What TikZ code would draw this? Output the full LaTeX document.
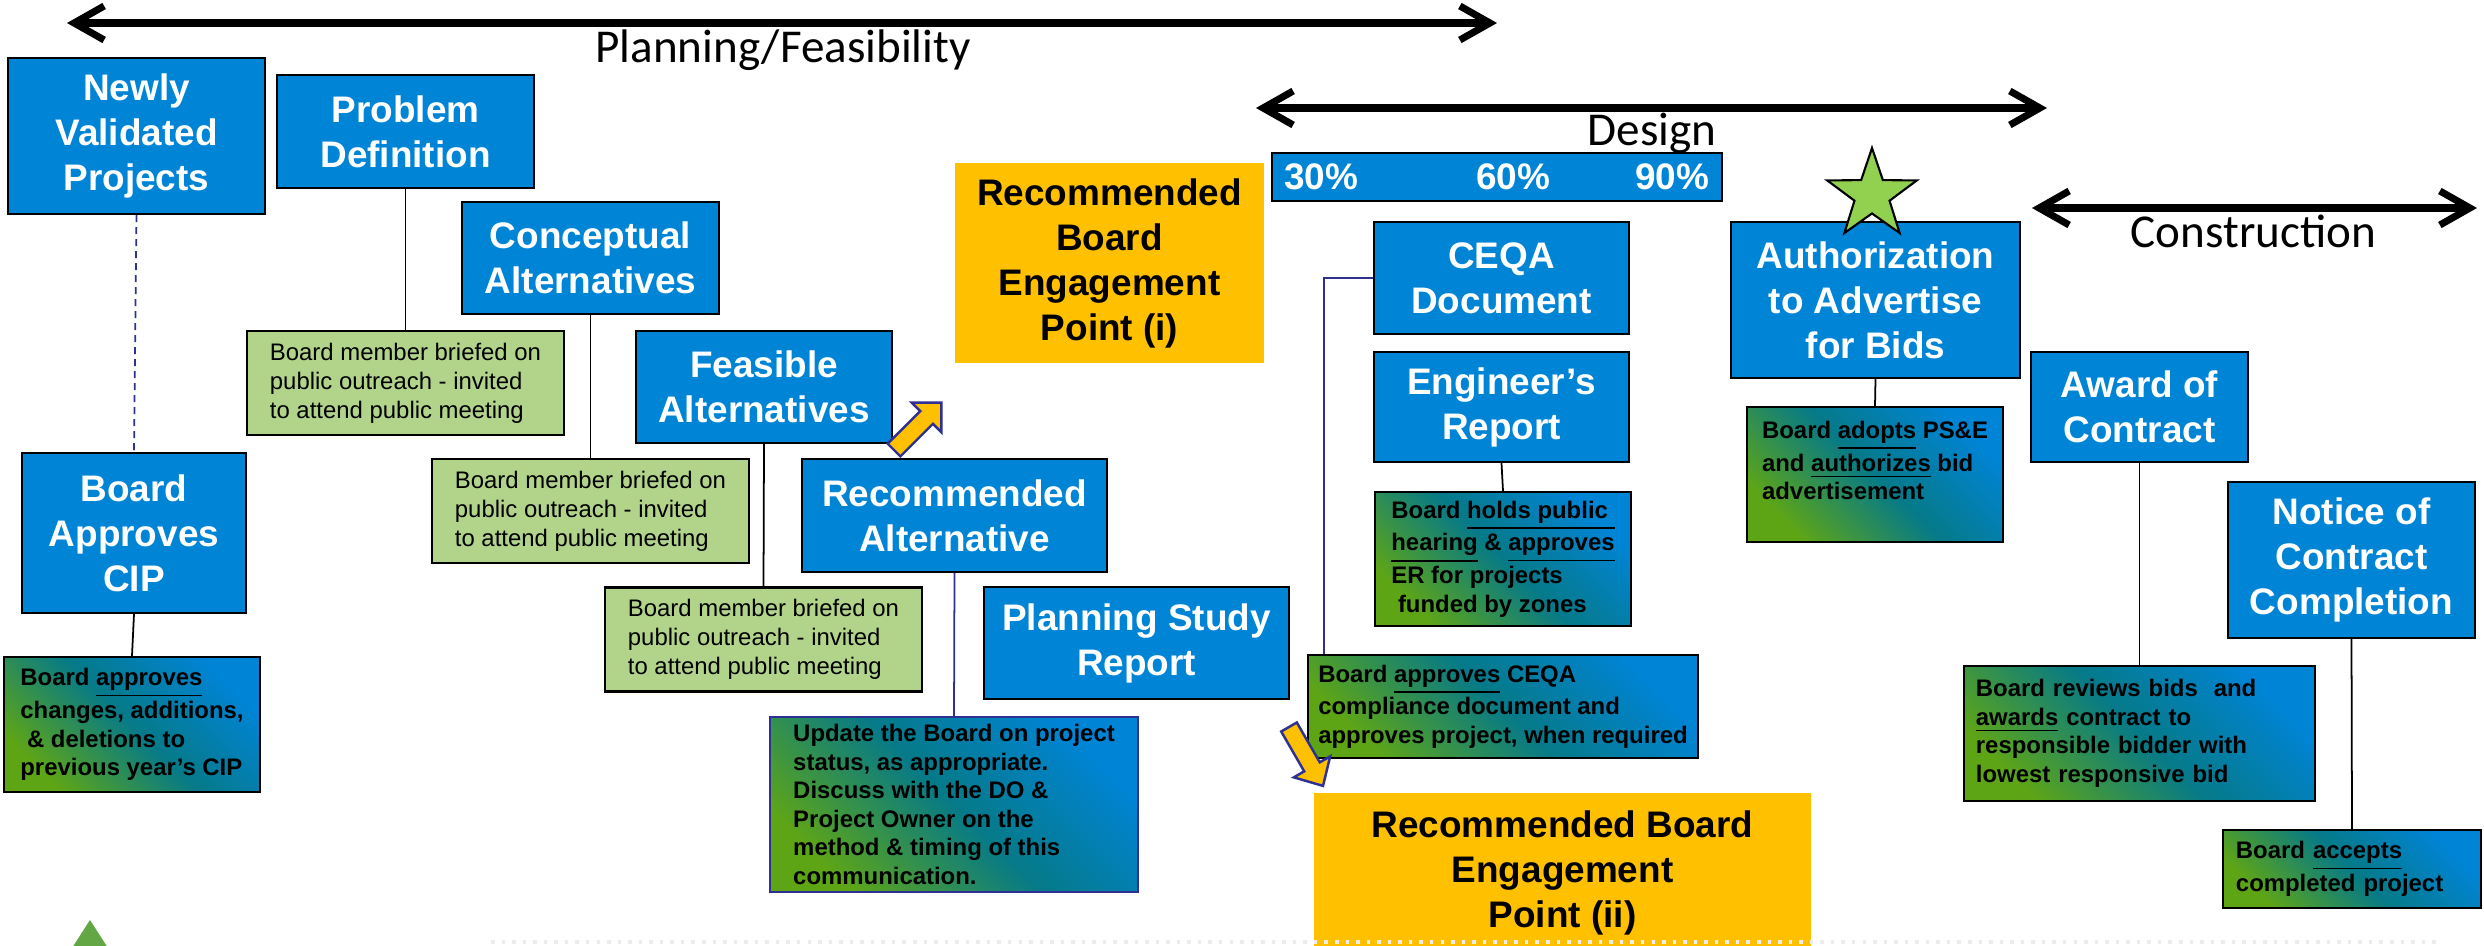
\documentclass[tikz,border=0pt]{standalone}
\usepackage{fontspec}
\setmainfont{Liberation Sans}
\newfontfamily\phasefont{Carlito}
\usepackage{tikz}
\usepackage{xcolor}
\usetikzlibrary{arrows.meta,shapes.geometric}

\definecolor{stepblue}{HTML}{0084D6}
\definecolor{notegreen}{HTML}{5EA516}
\definecolor{noteteal}{HTML}{067A88}
\definecolor{briefgreen}{HTML}{B2D38A}
\definecolor{engageyellow}{HTML}{FFC000}
\definecolor{linknavy}{HTML}{2E3192}
\definecolor{stargreen}{HTML}{92D050}
\definecolor{markgreen}{HTML}{62A744}

\tikzset{
  stepbox/.style={draw=black, line width=0.6pt, fill=stepblue, text=white, align=center,
    inner sep=0pt, font=\bfseries\fontsize{10.5pt}{12.8pt}\selectfont},
  notebox/.style={draw=black, line width=0.6pt, left color=notegreen, right color=stepblue,
    middle color=noteteal, shading angle=135, align=left, inner sep=0pt,
    font=\bfseries\fontsize{6.8pt}{8.1pt}\selectfont},
  briefbox/.style={draw=black, line width=0.6pt, fill=briefgreen, align=left, inner sep=0pt,
    minimum width=3.17cm, minimum height=1.04cm, font=\fontsize{6.8pt}{8.25pt}\selectfont},
  engagebox/.style={fill=engageyellow, align=center, inner sep=0pt,
    font=\bfseries\fontsize{10.5pt}{12.8pt}\selectfont},
  pctlabel/.style={text=white, inner sep=0pt, font=\bfseries\fontsize{10.5pt}{12.8pt}\selectfont},
  phase/.style={line width=2pt, line cap=round,
    {Straight Barb[length=0.3cm,width=0.34cm]}-{Straight Barb[length=0.3cm,width=0.34cm]}},
  phaselabel/.style={anchor=base, inner sep=0pt, font=\phasefont\fontsize{13.4pt}{16pt}\selectfont},
  link/.style={line width=0.5pt},
  pointer/.style={draw=linknavy, line width=0.7pt, fill=engageyellow, line join=miter}
}

\begin{document}
\begin{tikzpicture}[x=0.01cm,y=-0.01cm]
\useasboundingbox (0,0) rectangle (2484,945);
\clip (0,0) rectangle (2484,945);
\fill[white] (0,0) rectangle (2484,945);

% phases
\coordinate (planL) at (67,23);
\coordinate (planR) at (1497,23);
\coordinate (desL) at (1256,108);
\coordinate (desR) at (2047,108);
\coordinate (conL) at (2032,208);
\coordinate (conR) at (2477,208);
\draw[phase] (planL) -- (planR);
\draw[phase] (desL) -- (desR);
\draw[phase] (conL) -- (conR);
\node[phaselabel] (planning) at (783,62) {Planning/Feasibility};
\node[phaselabel] (design) at (1652,145) {Design};
\node[phaselabel] (construction) at (2253.5,247) {Construction};

% planning steps
\node[stepbox, minimum width=2.57cm, minimum height=1.56cm] (newly) at (136.5,136) {Newly\\Validated\\Projects};
\node[stepbox, minimum width=2.57cm, minimum height=1.13cm] (probdef) at (405.5,131.5) {Problem\\Definition};
\node[stepbox, minimum width=2.57cm, minimum height=1.12cm] (concept) at (590.5,258) {Conceptual\\Alternatives};
\node[stepbox, minimum width=2.56cm, minimum height=1.12cm] (feasible) at (764,387) {Feasible\\Alternatives};
\node[stepbox, minimum width=2.24cm, minimum height=1.60cm] (cip) at (134,533) {Board\\Approves\\CIP};
\node[stepbox, minimum width=3.05cm, minimum height=1.13cm] (recalt) at (954.5,515.5) {Recommended\\Alternative};
\node[stepbox, minimum width=3.05cm, minimum height=1.12cm] (psr) at (1136.5,643) {Planning Study\\Report};

\node[briefbox] (brief1) at (405.5,383) {Board member briefed on\\public outreach - invited\\to attend public meeting};
\node[briefbox] (brief2) at (590.5,511) {Board member briefed on\\public outreach - invited\\to attend public meeting};
\node[briefbox] (brief3) at (763.5,639.5) {Board member briefed on\\public outreach - invited\\to attend public meeting};

\node[notebox, minimum width=2.56cm, minimum height=1.35cm] (cipnote) at (132,724.5) {Board \underline{approves}\\changes, additions,\\\ \& deletions to\\previous year’s CIP};
\node[notebox, draw=linknavy, minimum width=3.68cm, minimum height=1.75cm] (update) at (954,804.5) {Update the Board on project\\status, as appropriate.\\Discuss with the DO \&\\Project Owner on the\\method \& timing of this\\communication.};

\node[engagebox, minimum width=3.09cm, minimum height=2.00cm] (engage1) at (1109.5,263) {Recommended\\Board\\Engagement\\Point (i)};

% design steps
\node[stepbox, minimum width=4.50cm, minimum height=0.48cm] (pctbar) at (1497,177) {};
\node[pctlabel] (p30) at (1321,177) {30\%};
\node[pctlabel] (p60) at (1513,177) {60\%};
\node[pctlabel] (p90) at (1672,177) {90\%};
\node[stepbox, minimum width=2.55cm, minimum height=1.12cm] (ceqa) at (1501.5,278) {CEQA\\Document};
\node[stepbox, minimum width=2.55cm, minimum height=1.10cm] (engrep) at (1501.5,407) {Engineer’s\\Report};
\node[notebox, minimum width=2.56cm, minimum height=1.34cm] (hearing) at (1503,559) {Board \underline{holds public\ }\\\underline{hearing} \& \underline{approves}\\ER for projects\\\ funded by zones};
\node[notebox, minimum width=3.90cm, minimum height=1.03cm] (ceqanote) at (1503,706.5) {Board \underline{approves} CEQA\\compliance document and\\approves project, when required};
\node[engagebox, minimum width=4.97cm, minimum height=1.60cm] (engage2) at (1562.5,873) {Recommended Board\\Engagement\\Point (ii)};

\node[stepbox, minimum width=2.89cm, minimum height=1.56cm] (auth) at (1875.5,300) {Authorization\\to Advertise\\for Bids};
\node[star, star points=5, star point ratio=2.55, minimum size=0.94cm, inner sep=0pt, draw=black, line width=0.6pt, fill=stargreen] (milestone) at (1872,195) {};
\node[notebox, minimum width=2.56cm, minimum height=1.35cm] (adopt) at (1875,474.5) {Board \underline{adopts} PS\&E\\and \underline{authorizes} bid\\advertisement\\\mbox{}};

% construction steps
\node[stepbox, minimum width=2.17cm, minimum height=1.10cm] (award) at (2139.5,407) {Award of\\Contract};
\node[stepbox, minimum width=2.47cm, minimum height=1.56cm] (notice) at (2351.5,560) {Notice of\\Contract\\Completion};
\node[notebox, minimum width=3.51cm, minimum height=1.35cm, text width=3.27cm] (reviews) at (2139.5,733.5) {Board reviews bids \ and\\\underline{awards} contract to\\responsible bidder with\\lowest responsive bid};
\node[notebox, minimum width=2.58cm, minimum height=0.78cm, text width=2.32cm] (accepts) at (2352,869) {Board \underline{accepts}\\completed project};

% connectors
\draw[link, linknavy, dash pattern=on 0.07cm off 0.05cm] (newly.south) -- (cip.north);
\draw[link] (cip.south) -- (cipnote.north);
\draw[link] (probdef.south) -- (brief1.north);
\draw[link] (concept.south) -- (brief2.north);
\draw[link] (feasible.south) -- (brief3.north);
\draw[link, linknavy] (recalt.south) -- (update.north);
\draw[link] (engrep.south) -- (hearing.north);
\draw[link, linknavy] (ceqa.west) -| ([xshift=0.17cm]ceqanote.north west);
\draw[link] (auth.south) -- (adopt.north);
\draw[link] (award.south) -- (reviews.north);
\draw[link] (notice.south) -- (accepts.north);

% engagement pointers
\draw[pointer, shift={(894,450)}, rotate=45] (0,-9) -- (46,-9) -- (46,-21) -- (67,0) -- (46,21) -- (46,9) -- (0,9) -- cycle;
\draw[pointer, shift={(1289,727)}, rotate=-60] (0,-9) -- (46,-9) -- (46,-21) -- (68,0) -- (46,21) -- (46,9) -- (0,9) -- cycle;

% bottom edge
\fill[markgreen] (90,920) -- (117,962) -- (63,962) -- cycle;
\draw[gray!15, dotted, line width=1pt] (491,942) -- (2440,942);
\end{tikzpicture}
\end{document}
